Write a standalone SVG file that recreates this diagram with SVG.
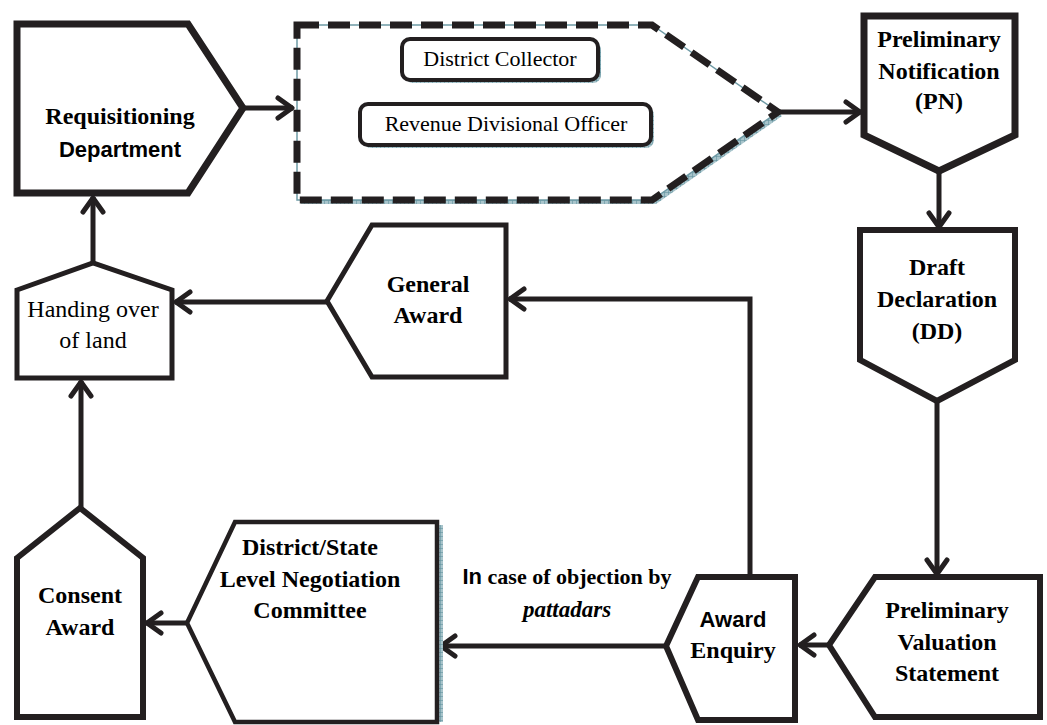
<svg xmlns="http://www.w3.org/2000/svg" width="1047" height="725" viewBox="0 0 1047 725">
<defs>
<pattern id="teal" width="4" height="4" patternUnits="userSpaceOnUse">
<rect width="4" height="4" fill="#a8c4cb"/>
<path d="M0,0.3H4M0.3,0V4" stroke="#5f8f9b" stroke-width="0.7"/>
</pattern>
<marker id="ah" markerUnits="userSpaceOnUse" markerWidth="30" markerHeight="30" refX="0" refY="0" orient="auto" overflow="visible">
<path d="M-15,-10 L-1,0 L-15,10" fill="none" stroke="#231f20" stroke-width="5" stroke-linecap="round" stroke-linejoin="round"/>
</marker>
</defs>
<rect width="1047" height="725" fill="#fff"/>

<g id="connectors" fill="none" stroke="#231f20" stroke-width="5" marker-end="url(#ah)">
<line x1="243" y1="108" x2="293" y2="108"/>
<line x1="779" y1="112" x2="861" y2="112"/>
<line x1="939" y1="171" x2="939" y2="228"/>
<line x1="937" y1="402" x2="937" y2="575"/>
<line x1="829" y1="645" x2="799" y2="645"/>
<line x1="666" y1="646" x2="440" y2="646"/>
<path d="M750,576 V299 H509"/>
<line x1="327" y1="302" x2="175" y2="302"/>
<line x1="187" y1="623" x2="146" y2="623"/>
<line x1="81" y1="508" x2="81" y2="381"/>
<line x1="93" y1="263" x2="93" y2="197"/>
</g>

<g id="requisitioning">
<polygon fill="#fff" stroke="#231f20" stroke-width="7" points="17,24 188,24 243,108 188,193 17,193"/>
<text x="120" y="124" font-family="Liberation Serif" font-weight="bold" font-size="24" text-anchor="middle">Requisitioning</text>
<text x="120" y="157" font-family="Liberation Sans" font-weight="bold" font-size="22" text-anchor="middle">Department</text>
</g>

<g id="authority">
<polygon points="301,29 656,29 782,116 656,204 301,204" fill="url(#teal)"/>
<polygon points="297,25 652,25 778,112 652,200 297,200" fill="#fff" stroke="#6e9aa5" stroke-width="1.5"/>
<path d="M297,25 L652,25 L778,112 L652,200 L297,200 Z" fill="none" stroke="#231f20" stroke-width="7" stroke-dasharray="22 9"/>
<g id="district-collector">
<rect x="405" y="42" width="196" height="41" rx="8" fill="url(#teal)"/>
<rect x="402" y="39" width="196" height="41" rx="8" fill="#fff" stroke="#231f20" stroke-width="4"/>
<text x="500" y="66" font-family="Liberation Serif" font-size="22" text-anchor="middle">District Collector</text>
</g>
<g id="rdo">
<rect x="363" y="107" width="291" height="41" rx="8" fill="url(#teal)"/>
<rect x="360" y="104" width="291" height="41" rx="8" fill="#fff" stroke="#231f20" stroke-width="4"/>
<text x="506" y="131" font-family="Liberation Serif" font-size="22" text-anchor="middle">Revenue Divisional Officer</text>
</g>
</g>

<g id="pn">
<polygon fill="#fff" stroke="#231f20" stroke-width="7" points="864,16 1015,16 1015,135 939,171 864,135"/>
<text x="939" y="47" font-family="Liberation Serif" font-weight="bold" font-size="24" text-anchor="middle">Preliminary</text>
<text x="939" y="79" font-family="Liberation Serif" font-weight="bold" font-size="24" text-anchor="middle">Notification</text>
<text x="939" y="109" font-family="Liberation Serif" font-weight="bold" font-size="24" text-anchor="middle">(PN)</text>
</g>

<g id="dd">
<polygon fill="#fff" stroke="#231f20" stroke-width="6" points="860,230 1015,230 1015,360 937,401 860,360"/>
<text x="937" y="275" font-family="Liberation Serif" font-weight="bold" font-size="24" text-anchor="middle">Draft</text>
<text x="937" y="307" font-family="Liberation Serif" font-weight="bold" font-size="24" text-anchor="middle">Declaration</text>
<text x="937" y="339" font-family="Liberation Serif" font-weight="bold" font-size="24" text-anchor="middle">(DD)</text>
</g>

<g id="pvs">
<polygon fill="#fff" stroke="#231f20" stroke-width="6" points="875,577 1040,577 1040,717 875,717 829,645"/>
<text x="947" y="618" font-family="Liberation Serif" font-weight="bold" font-size="24" text-anchor="middle">Preliminary</text>
<text x="947" y="650" font-family="Liberation Serif" font-weight="bold" font-size="24" text-anchor="middle">Valuation</text>
<text x="947" y="681" font-family="Liberation Serif" font-weight="bold" font-size="24" text-anchor="middle">Statement</text>
</g>

<g id="award-enquiry">
<polygon fill="#fff" stroke="#231f20" stroke-width="6" points="698,577 795,577 795,720 698,720 666,646"/>
<text x="733" y="627" font-family="Liberation Sans" font-weight="bold" font-size="22" text-anchor="middle">Award</text>
<text x="733" y="658" font-family="Liberation Serif" font-weight="bold" font-size="24" text-anchor="middle">Enquiry</text>
</g>

<g id="negotiation">
<rect x="439" y="525" width="4" height="197" fill="url(#teal)"/>
<polygon fill="#fff" stroke="#231f20" stroke-width="4.5" points="235,522 437,522 437,722 235,722 187,623"/>
<text x="310" y="555" font-family="Liberation Serif" font-weight="bold" font-size="24" text-anchor="middle">District/State</text>
<text x="310" y="587" font-family="Liberation Serif" font-weight="bold" font-size="24" text-anchor="middle">Level Negotiation</text>
<text x="310" y="618" font-family="Liberation Serif" font-weight="bold" font-size="24" text-anchor="middle">Committee</text>
</g>

<g id="consent-award">
<polygon fill="#fff" stroke="#231f20" stroke-width="6" points="17,558 80,508 143,558 143,717 17,717"/>
<text x="80" y="603" font-family="Liberation Serif" font-weight="bold" font-size="24" text-anchor="middle">Consent</text>
<text x="80" y="635" font-family="Liberation Serif" font-weight="bold" font-size="24" text-anchor="middle">Award</text>
</g>

<g id="handing-over">
<polygon fill="#fff" stroke="#231f20" stroke-width="5" points="17,290 93,263 172,290 172,378 17,378"/>
<text x="93" y="317" font-family="Liberation Serif" font-size="24" text-anchor="middle">Handing over</text>
<text x="93" y="348" font-family="Liberation Serif" font-size="24" text-anchor="middle">of land</text>
</g>

<g id="general-award">
<polygon fill="#fff" stroke="#231f20" stroke-width="5" points="372,225 506,225 506,377 372,377 327,301"/>
<text x="428" y="292" font-family="Liberation Serif" font-weight="bold" font-size="24" text-anchor="middle">General</text>
<text x="428" y="323" font-family="Liberation Serif" font-weight="bold" font-size="24" text-anchor="middle">Award</text>
</g>

<g id="edge-label">
<text x="567" y="584" font-family="Liberation Serif" font-weight="bold" font-size="22" text-anchor="middle"><tspan font-family="Liberation Sans">In</tspan> case of objection by</text>
<text x="567" y="617" font-family="Liberation Serif" font-weight="bold" font-style="italic" font-size="23" text-anchor="middle">pattadars</text>
</g>
</svg>
